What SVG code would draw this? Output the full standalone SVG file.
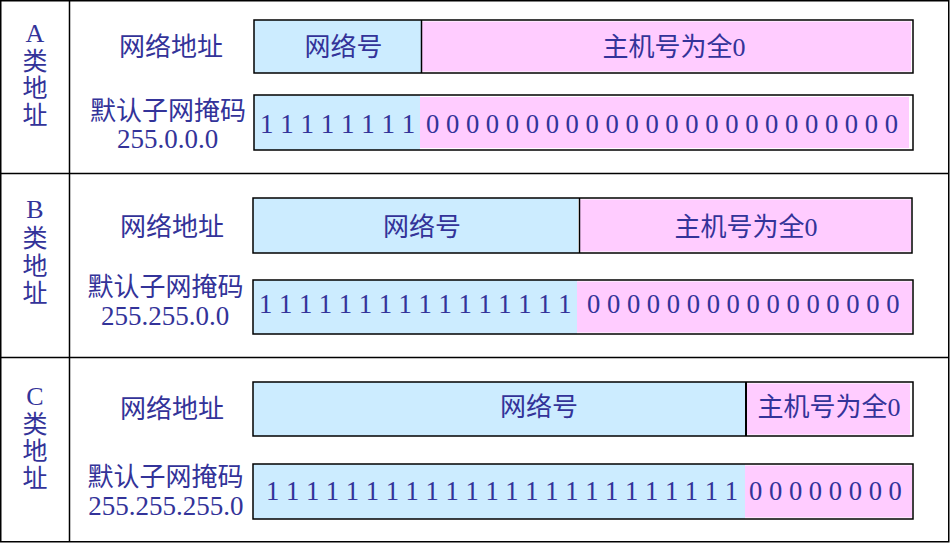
<svg xmlns="http://www.w3.org/2000/svg" width="950" height="543" viewBox="0 0 950 543">
<style>
.grid{stroke:#000;stroke-width:1.5;fill:none}
.box{stroke:#000;stroke-width:1.5;fill:none}
.div{stroke:#000;stroke-width:1.5}
.blue{fill:#CCECFF}
.pink{fill:#FFCCFF}
.t{font-family:"Liberation Serif","Noto Sans CJK SC",serif;font-size:26px;fill:#333399}
.c{text-anchor:middle}
.v{font-size:25px}
</style>
<rect width="950" height="543" fill="#fff"/>
<g id="table">
<rect class="grid" x="0.75" y="0.75" width="948" height="541"/>
<line class="grid" x1="0" y1="173.5" x2="949" y2="173.5"/>
<line class="grid" x1="0" y1="357.5" x2="949" y2="357.5"/>
<line class="grid" x1="69.5" y1="0" x2="69.5" y2="542"/>
</g>
<g id="classA">
<text class="t c" x="35" y="42">A</text>
<text class="t c v" x="35" y="70">类</text>
<text class="t c v" x="35" y="97">地</text>
<text class="t c v" x="35" y="124">址</text>
<text class="t c" x="171" y="56">网络地址</text>
<text class="t c" x="168" y="120">默认子网掩码</text>
<text class="t c" x="167.5" y="148" style="font-size:27px">255.0.0.0</text>
</g>
<g id="A-net">
<rect class="blue" x="254" y="20" width="168" height="53"/>
<rect class="pink" x="422" y="21.5" width="489" height="50"/>
<rect class="box" x="254" y="20" width="659" height="53"/>
<line class="div" x1="421.5" y1="20" x2="421.5" y2="73"/>
<text class="t c" x="343.5" y="56">网络号</text>
<text class="t c" x="674" y="56">主机号为全0</text>
</g>
<g id="A-mask">
<rect class="blue" x="254" y="95" width="166" height="55"/>
<rect class="pink" x="420" y="97" width="489" height="51"/>
<rect class="box" x="254" y="95" width="659" height="55"/>
<text class="t" x="260" y="132.5" style="font-size:27px">1 1 1 1 1 1 1 1</text>
<text class="t" x="426" y="132.5" style="font-size:26.6px">0 0 0 0 0 0 0 0 0 0 0 0 0 0 0 0 0 0 0 0 0 0 0 0</text>
</g>
<g id="classB">
<text class="t c" x="35" y="218">B</text>
<text class="t c v" x="35" y="247">类</text>
<text class="t c v" x="35" y="275">地</text>
<text class="t c v" x="35" y="302">址</text>
<text class="t c" x="172" y="236">网络地址</text>
<text class="t c" x="165.5" y="296">默认子网掩码</text>
<text class="t c" x="165" y="325" style="font-size:27px">255.255.0.0</text>
</g>
<g id="B-net">
<rect class="blue" x="253" y="198" width="325" height="55"/>
<rect class="pink" x="580" y="199.5" width="331" height="52"/>
<rect class="box" x="253" y="198" width="659" height="55"/>
<line class="div" x1="579.5" y1="198" x2="579.5" y2="253"/>
<text class="t c" x="422" y="236">网络号</text>
<text class="t c" x="746" y="236">主机号为全0</text>
</g>
<g id="B-mask">
<rect class="blue" x="253" y="280" width="324" height="54"/>
<rect class="pink" x="577" y="281.5" width="335" height="51"/>
<rect class="box" x="253" y="280" width="660" height="54"/>
<text class="t" x="259" y="313" style="font-size:26.6px">1 1 1 1 1 1 1 1 1 1 1 1 1 1 1 1</text>
<text class="t" x="587" y="313" style="font-size:26.6px">0 0 0 0 0 0 0 0 0 0 0 0 0 0 0 0</text>
</g>
<g id="classC">
<text class="t c" x="35" y="405">C</text>
<text class="t c v" x="35" y="433">类</text>
<text class="t c v" x="35" y="460">地</text>
<text class="t c v" x="35" y="487">址</text>
<text class="t c" x="172" y="418">网络地址</text>
<text class="t c" x="165.5" y="486">默认子网掩码</text>
<text class="t c" x="165.8" y="515" style="font-size:27px">255.255.255.0</text>
</g>
<g id="C-net">
<rect class="blue" x="253" y="382" width="493" height="54"/>
<rect class="pink" x="747" y="383.5" width="163" height="51"/>
<rect class="box" x="253" y="382" width="660" height="54"/>
<line class="div" x1="746" y1="382" x2="746" y2="436" style="stroke-width:2"/>
<text class="t c" x="539" y="416">网络号</text>
<text class="t c" x="829" y="416">主机号为全0</text>
</g>
<g id="C-mask">
<rect class="blue" x="253" y="464" width="492" height="55"/>
<rect class="pink" x="745" y="465.5" width="167" height="52"/>
<rect class="box" x="253" y="464" width="660" height="55"/>
<text class="t" x="266" y="500" style="font-size:26.6px">1 1 1 1 1 1 1 1 1 1 1 1 1 1 1 1 1 1 1 1 1 1 1 1</text>
<text class="t" x="749" y="500" style="font-size:26.6px">0 0 0 0 0 0 0 0</text>
</g>
</svg>
